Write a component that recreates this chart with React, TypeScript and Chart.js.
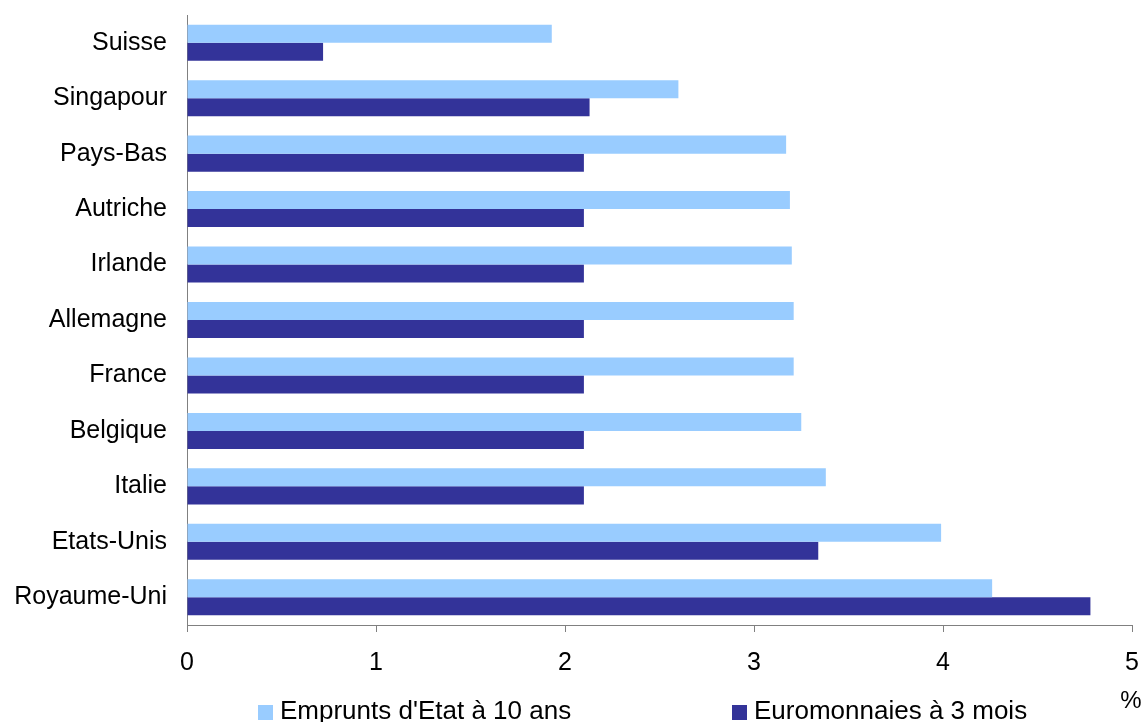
import React, { useEffect, useRef } from "react";
import { Chart, registerables } from "chart.js";

Chart.register(...registerables);

const countries = [
  "Suisse",
  "Singapour",
  "Pays-Bas",
  "Autriche",
  "Irlande",
  "Allemagne",
  "France",
  "Belgique",
  "Italie",
  "Etats-Unis",
  "Royaume-Uni",
];

const bonds10y = [1.93, 2.6, 3.17, 3.19, 3.2, 3.21, 3.21, 3.25, 3.38, 3.99, 4.26];
const euro3m = [0.72, 2.13, 2.1, 2.1, 2.1, 2.1, 2.1, 2.1, 2.1, 3.34, 4.78];

const seriesNames = ["Emprunts d'Etat à 10 ans", "Euromonnaies à 3 mois"];
const seriesColors = ["#99CCFF", "#333399"];
const xTicks = [0, 1, 2, 3, 4, 5];

const FONT = "'Liberation Sans', Arial, sans-serif";

const legendPlugin = {
  id: "bottomLegend",
  afterDraw(chart: any) {
    const { ctx } = chart;
    const positions = [258, 732];
    ctx.save();
    ctx.font = `26px ${FONT}`;
    ctx.textBaseline = "alphabetic";
    ctx.textAlign = "left";
    chart.data.datasets.forEach((ds: any, i: number) => {
      const x = positions[i];
      ctx.fillStyle = ds.backgroundColor;
      ctx.fillRect(x, 705, 15, 15);
      ctx.fillStyle = "#000";
      ctx.fillText(ds.label, x + 22, 719);
    });
    ctx.font = `24px ${FONT}`;
    ctx.textAlign = "center";
    ctx.fillText("%", 1131, 708);
    ctx.restore();
  },
};

export default function App() {
  const ref = useRef<HTMLCanvasElement>(null);

  useEffect(() => {
    if (!ref.current) return;
    const chart = new Chart(ref.current, {
      type: "bar",
      data: {
        labels: countries,
        datasets: [
          {
            label: seriesNames[0],
            data: bonds10y,
            backgroundColor: seriesColors[0],
            barPercentage: 1,
            categoryPercentage: 0.65,
          },
          {
            label: seriesNames[1],
            data: euro3m,
            backgroundColor: seriesColors[1],
            barPercentage: 1,
            categoryPercentage: 0.65,
          },
        ],
      },
      options: {
        indexAxis: "y",
        animation: false,
        responsive: false,
        maintainAspectRatio: false,
        layout: { padding: { left: 0, top: 15, right: 14, bottom: 0 } },
        plugins: {
          legend: { display: false },
          tooltip: { enabled: false },
        },
        scales: {
          x: {
            type: "linear",
            min: 0,
            max: 5,
            afterBuildTicks: (scale: any) => {
              scale.ticks = xTicks.map((v) => ({ value: v }));
            },
            afterFit: (scale: any) => {
              scale.height = 97;
              scale.paddingLeft = 0;
              scale.paddingRight = 0;
            },
            grid: {
              display: true,
              drawOnChartArea: false,
              drawTicks: true,
              tickLength: 7,
              color: "#808080",
              lineWidth: 1,
            },
            border: { display: true, color: "#808080", width: 1 },
            ticks: {
              padding: 16,
              color: "#000",
              font: { family: FONT, size: 25 },
              maxRotation: 0,
            },
          },
          y: {
            afterFit: (scale: any) => {
              scale.width = 187;
              scale.paddingTop = 0;
              scale.paddingBottom = 0;
            },
            grid: { display: false, drawTicks: false },
            border: { display: true, color: "#808080", width: 1 },
            ticks: {
              padding: 20,
              color: "#000",
              font: { family: FONT, size: 25 },
              autoSkip: false,
            },
          },
        },
      },
      plugins: [legendPlugin],
    });
    return () => chart.destroy();
  }, []);

  return (
    <div style={{ position: "fixed", left: 0, top: 0, width: 1146, height: 722, background: "#fff" }}>
      <canvas ref={ref} width={1146} height={722} style={{ display: "block" }} />
    </div>
  );
}
